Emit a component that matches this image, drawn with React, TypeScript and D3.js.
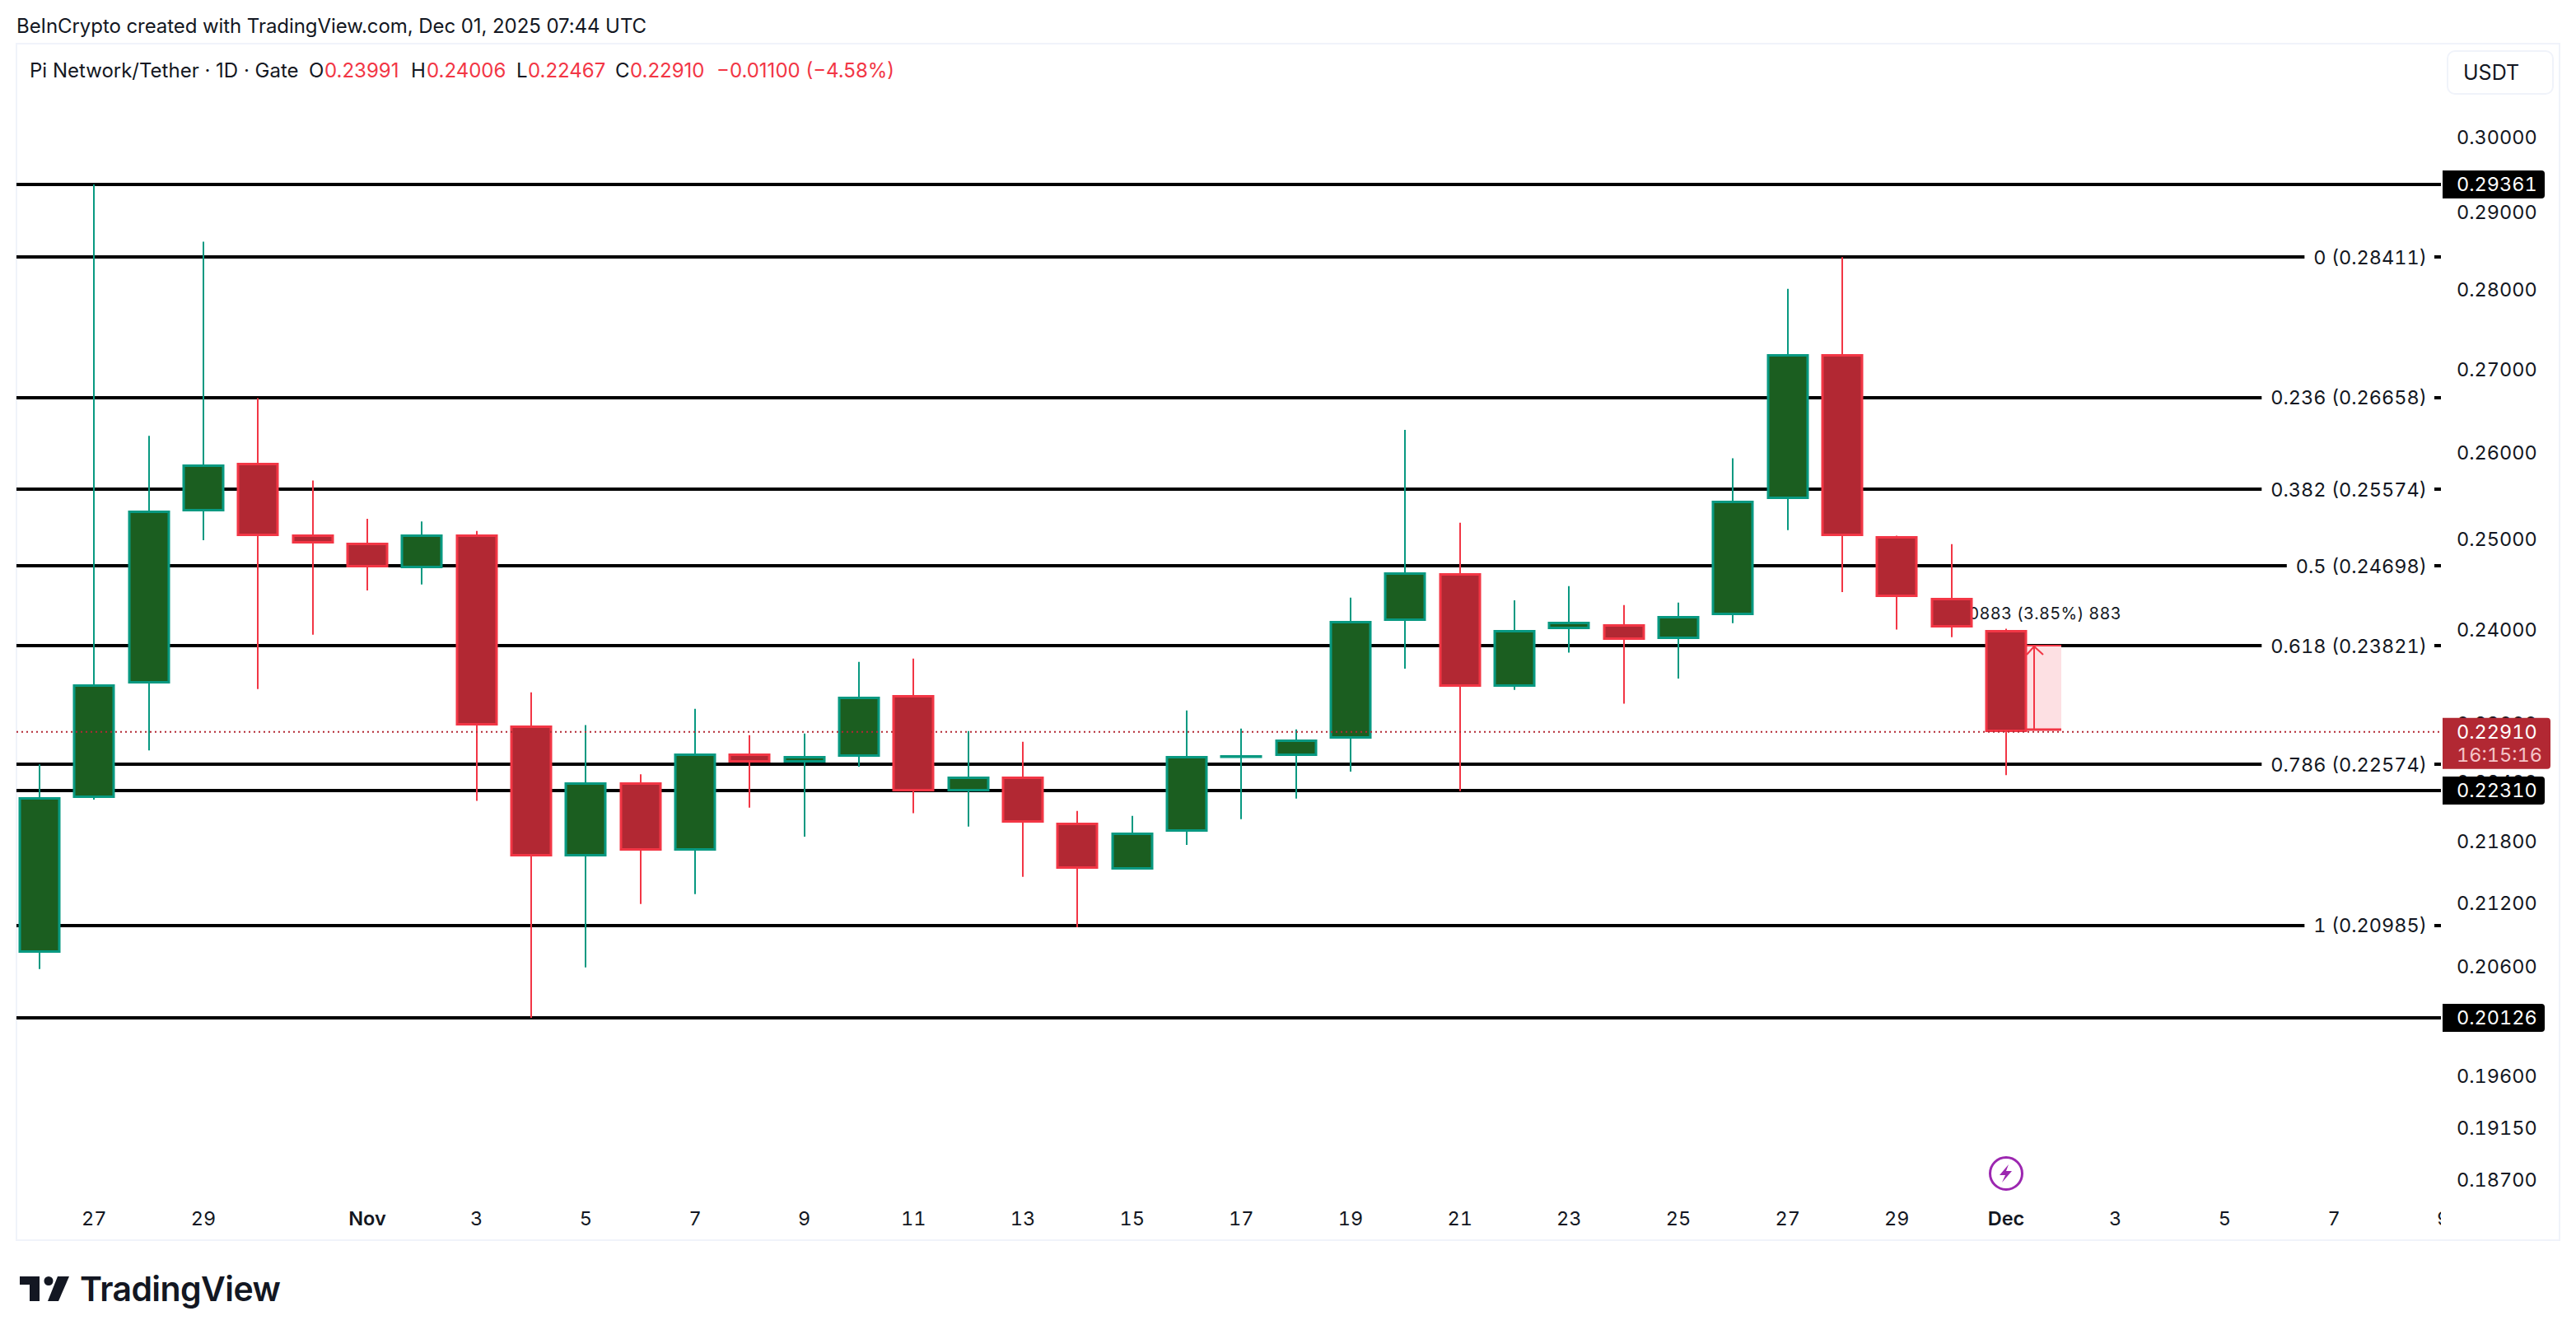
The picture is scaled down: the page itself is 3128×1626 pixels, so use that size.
import React, { useEffect, useRef } from "react";
import * as d3 from "d3";

// daily candles, Oct 26 to Dec 1
const opens = [0.20727, 0.22239, 0.23423, 0.25322, 0.25882, 0.25057, 0.24957, 0.24675, 0.25057, 0.22976, 0.21656, 0.22391, 0.21714, 0.22691, 0.22596, 0.2266, 0.23293, 0.223, 0.22454, 0.21984, 0.21531, 0.21895, 0.2267, 0.2266, 0.22834, 0.24097, 0.24622, 0.23384, 0.23998, 0.24059, 0.2389, 0.24158, 0.25462, 0.27192, 0.25035, 0.24342, 0.23991];
const highs = [0.22575, 0.29361, 0.262, 0.28608, 0.2665, 0.25674, 0.25233, 0.25202, 0.25095, 0.23324, 0.22981, 0.22474, 0.23152, 0.22877, 0.22894, 0.23649, 0.23684, 0.2292, 0.22808, 0.22105, 0.22055, 0.23135, 0.22945, 0.22937, 0.24347, 0.26271, 0.25188, 0.24318, 0.24474, 0.24265, 0.24293, 0.25934, 0.28005, 0.28411, 0.2504, 0.24946, 0.24006];
const lows = [0.20576, 0.22217, 0.22719, 0.24989, 0.23359, 0.23941, 0.24426, 0.24494, 0.22206, 0.20126, 0.20592, 0.21192, 0.21287, 0.22138, 0.21848, 0.22552, 0.22081, 0.21948, 0.21455, 0.20969, 0.21531, 0.21766, 0.22022, 0.22229, 0.22502, 0.23577, 0.22304, 0.2335, 0.23748, 0.23205, 0.2347, 0.24068, 0.25104, 0.24409, 0.23998, 0.23916, 0.22467];
const closes = [0.22239, 0.23412, 0.25328, 0.25862, 0.25032, 0.24952, 0.24682, 0.25052, 0.22976, 0.21656, 0.22396, 0.21705, 0.22691, 0.22596, 0.22666, 0.23283, 0.22295, 0.22454, 0.21986, 0.21531, 0.21892, 0.22662, 0.22674, 0.22828, 0.24088, 0.24632, 0.23384, 0.2399, 0.2408, 0.2389, 0.24142, 0.25445, 0.27192, 0.25039, 0.24354, 0.24015, 0.2291];

const priceTicks = [0.3, 0.29, 0.28, 0.27, 0.26, 0.25, 0.24, 0.23, 0.224, 0.218, 0.212, 0.206, 0.196, 0.1915, 0.187];

const fibRatios = ["0", "0.236", "0.382", "0.5", "0.618", "0.786", "1"];
const fibPrices = [0.28411, 0.26658, 0.25574, 0.24698, 0.23821, 0.22574, 0.20985];
const supportPrices = [0.29361, 0.2231, 0.20126];

const dayTickIndex = [1, 3, 6, 8, 10, 12, 14, 16, 18, 20, 22, 24, 26, 28, 30, 32, 34, 36, 38, 40, 42, 44];
const dayTickLabels = ["27", "29", "Nov", "3", "5", "7", "9", "11", "13", "15", "17", "19", "21", "23", "25", "27", "29", "Dec", "3", "5", "7", "9"];

const lastPrice = 0.2291;
const targetPrice = 0.23821;

const FONT = "Inter, 'Noto Sans', sans-serif";
const INK = "#131722";
const UP_WICK = "#089981";
const UP_FILL = "#1b5e20";
const DOWN_WICK = "#f23645";
const DOWN_FILL = "#b22833";
const AXIS_SIZE = 23.5;

export default function App() {
    const svgRef = useRef<SVGSVGElement>(null);

    useEffect(() => {
        const svg = d3.select(svgRef.current);
        svg.selectAll("*").remove();

        const x = d3.scaleLinear().domain([0, 36]).range([48, 2436]);
        const y = d3.scaleLog().domain([0.20126, 0.29361]).range([1236, 224]);
        const plotRight = 2964;

        svg.append("rect").attr("width", 3128).attr("height", 1626).attr("fill", "#fff");

        svg.append("text").attr("x", 20).attr("y", 40).attr("font-size", 24).attr("letter-spacing", -0.07).attr("fill", INK)
            .style("font-variant-numeric", "normal")
            .text("BeInCrypto created with TradingView.com, Dec 01, 2025 07:44 UTC");

        // pane frame
        svg.append("rect").attr("x", 20).attr("y", 53).attr("width", 3088).attr("height", 1453)
            .attr("fill", "none").attr("stroke", "#f0f3fa").attr("stroke-width", 2);

        svg.append("clipPath").attr("id", "plot").append("rect")
            .attr("x", 20).attr("y", 53).attr("width", plotRight - 20).attr("height", 1453);

        // legend line
        const legend = svg.append("text").attr("y", 94).attr("font-size", 24).style("font-variant-numeric", "normal");
        const legendParts: [number, string, string][] = [
            [36, "Pi Network/Tether · 1D · Gate", INK],
            [375, "O", INK], [394, "0.23991", DOWN_WICK],
            [499, "H", INK], [518, "0.24006", DOWN_WICK],
            [627, "L", INK], [641, "0.22467", DOWN_WICK],
            [747, "C", INK], [765, "0.22910", DOWN_WICK],
            [870, "−0.01100 (−4.58%)", DOWN_WICK],
        ];
        legendParts.forEach(([px, label, color]) => {
            legend.append("tspan").attr("x", px).attr("fill", color).text(label);
        });

        // currency button
        svg.append("rect").attr("x", 2972).attr("y", 62).attr("width", 128).attr("height", 52).attr("rx", 9)
            .attr("fill", "#fff").attr("stroke", "#f0f3fa").attr("stroke-width", 2);
        svg.append("text").attr("x", 2991).attr("y", 97).attr("font-size", 25).attr("fill", INK).text("USDT");

        // price axis
        svg.append("g").selectAll("text").data(priceTicks).join("text")
            .attr("x", 2983).attr("y", d => y(d)).attr("dy", "0.36em")
            .attr("font-size", AXIS_SIZE).attr("fill", INK)
            .text(d => d.toFixed(5));

        // fib levels, the label sits in a gap of the line
        const lines = svg.append("g").attr("stroke", "#000").attr("stroke-width", 4).attr("shape-rendering", "crispEdges");
        [...fibPrices, ...supportPrices].forEach(p => {
            const py = Math.round(y(p));
            lines.append("line").attr("x1", 20).attr("x2", plotRight).attr("y1", py).attr("y2", py);
        });
        fibPrices.forEach((p, i) => {
            const gap = svg.append("rect").attr("fill", "#fff");
            const label = svg.append("text").attr("x", 2947).attr("y", y(p)).attr("dy", "0.36em")
                .attr("text-anchor", "end").attr("font-size", AXIS_SIZE).attr("fill", INK)
                .text(`${fibRatios[i]} (${p.toFixed(5)})`);
            const w = (label.node() as SVGTextElement).getComputedTextLength();
            gap.attr("x", 2947 - w - 11).attr("y", y(p) - 4).attr("width", w + 20).attr("height", 8);
        });

        // price range drawing next to the last candle
        const boxTop = Math.round(y(targetPrice));
        const boxBottom = Math.round(y(lastPrice)) - 3;
        svg.append("rect").attr("x", 2461).attr("y", boxTop).attr("width", 42).attr("height", boxBottom - boxTop)
            .attr("fill", "#fde0e3");
        svg.append("line").attr("x1", 2461).attr("x2", 2503).attr("y1", boxTop).attr("y2", boxTop)
            .attr("stroke", DOWN_WICK).attr("stroke-width", 2);
        svg.append("line").attr("x1", 2461).attr("x2", 2503).attr("y1", boxBottom).attr("y2", boxBottom)
            .attr("stroke", DOWN_WICK).attr("stroke-width", 3);
        svg.append("line").attr("x1", 2470).attr("x2", 2470).attr("y1", boxTop).attr("y2", boxBottom)
            .attr("stroke", DOWN_WICK).attr("stroke-width", 2);
        svg.append("path").attr("d", `M2461,${boxTop + 11}L2470,${boxTop + 1}L2481,${boxTop + 11}`)
            .attr("fill", "none").attr("stroke", DOWN_WICK).attr("stroke-width", 2);
        svg.append("text").attr("x", 2576).attr("y", 752).attr("text-anchor", "end")
            .attr("font-size", 20).attr("letter-spacing", 0.3).attr("fill", INK).text("0.00883 (3.85%) 883");

        // candles
        const idx = d3.range(opens.length);
        const up = (i: number) => closes[i] >= opens[i];
        const cx = (i: number) => Math.round(x(i));
        const candles = svg.append("g").attr("clip-path", "url(#plot)");
        candles.selectAll("line").data(idx).join("line")
            .attr("x1", cx).attr("x2", cx)
            .attr("y1", i => y(highs[i])).attr("y2", i => y(lows[i]))
            .attr("stroke", i => (up(i) ? UP_WICK : DOWN_WICK)).attr("stroke-width", 2);
        candles.selectAll("rect").data(idx).join("rect")
            .attr("x", i => cx(i) - 24)
            .attr("width", 48)
            .attr("y", i => Math.round(y(Math.max(opens[i], closes[i]))) + 1.5)
            .attr("height", i => Math.max(0.5, Math.round(y(Math.min(opens[i], closes[i])) - y(Math.max(opens[i], closes[i]))) - 3))
            .attr("fill", i => (up(i) ? UP_FILL : DOWN_FILL))
            .attr("stroke", i => (up(i) ? UP_WICK : DOWN_WICK))
            .attr("stroke-width", 3);

        // last price line
        svg.append("line").attr("x1", 20).attr("x2", plotRight).attr("y1", y(lastPrice)).attr("y2", y(lastPrice))
            .attr("stroke", DOWN_FILL).attr("stroke-width", 2).attr("stroke-dasharray", "2 4");

        // date axis
        svg.append("g").attr("clip-path", "url(#plot)").selectAll("text").data(dayTickIndex).join("text")
            .attr("x", d => x(d)).attr("y", 1488).attr("text-anchor", "middle")
            .attr("font-size", AXIS_SIZE).attr("fill", INK)
            .attr("font-weight", (_, i) => (/[A-Z]/.test(dayTickLabels[i]) ? 600 : 400))
            .text((_, i) => dayTickLabels[i]);

        // price tags
        supportPrices.forEach(p => {
            svg.append("path")
                .attr("d", `M2966,${y(p) - 17}H3086a4,4 0 0 1 4,4V${y(p) + 13}a4,4 0 0 1 -4,4H2966Z`)
                .attr("fill", "#000");
            svg.append("text").attr("x", 2983).attr("y", y(p)).attr("dy", "0.36em").attr("font-size", AXIS_SIZE)
                .attr("fill", "#fff").text(p.toFixed(5));
        });
        const tagY = y(lastPrice);
        svg.append("path")
            .attr("d", `M2966,${tagY - 17}H3093a4,4 0 0 1 4,4V${tagY + 41}a4,4 0 0 1 -4,4H2966Z`)
            .attr("fill", DOWN_FILL);
        svg.append("text").attr("x", 2983).attr("y", tagY).attr("dy", "0.36em").attr("font-size", AXIS_SIZE)
            .attr("fill", "#fff").text(lastPrice.toFixed(5));
        svg.append("text").attr("x", 2983).attr("y", tagY + 28).attr("dy", "0.36em").attr("font-size", AXIS_SIZE)
            .attr("fill", "#f4c4c8").text("16:15:16");

        // lightning marker above Dec
        const mark = svg.append("g").attr("transform", `translate(${x(36)},1425)`);
        mark.append("circle").attr("r", 19.5).attr("fill", "#fff").attr("stroke", "#9c27b0").attr("stroke-width", 3);
        mark.append("path").attr("d", "M3,-11L-8,2H-1L-5,11L7,-3H0Z").attr("fill", "#9c27b0");

        // footer logo
        svg.append("path").attr("d", "M24,1550H48V1580H36V1560H24Z").attr("fill", INK);
        svg.append("circle").attr("cx", 59).attr("cy", 1555.5).attr("r", 5.5).attr("fill", INK);
        svg.append("path").attr("d", "M70,1550H84L71,1580H58Z").attr("fill", INK);
        svg.append("text").attr("x", 97).attr("y", 1580).attr("font-size", 41).attr("font-weight", 600)
            .attr("letter-spacing", -0.6).attr("fill", INK).text("TradingView");
    }, []);

    return (
        <svg
            ref={svgRef}
            width={3128}
            height={1626}
            style={{ position: "absolute", top: 0, left: 0, fontFamily: FONT, fontVariantNumeric: "tabular-nums" }}
        />
    );
}
